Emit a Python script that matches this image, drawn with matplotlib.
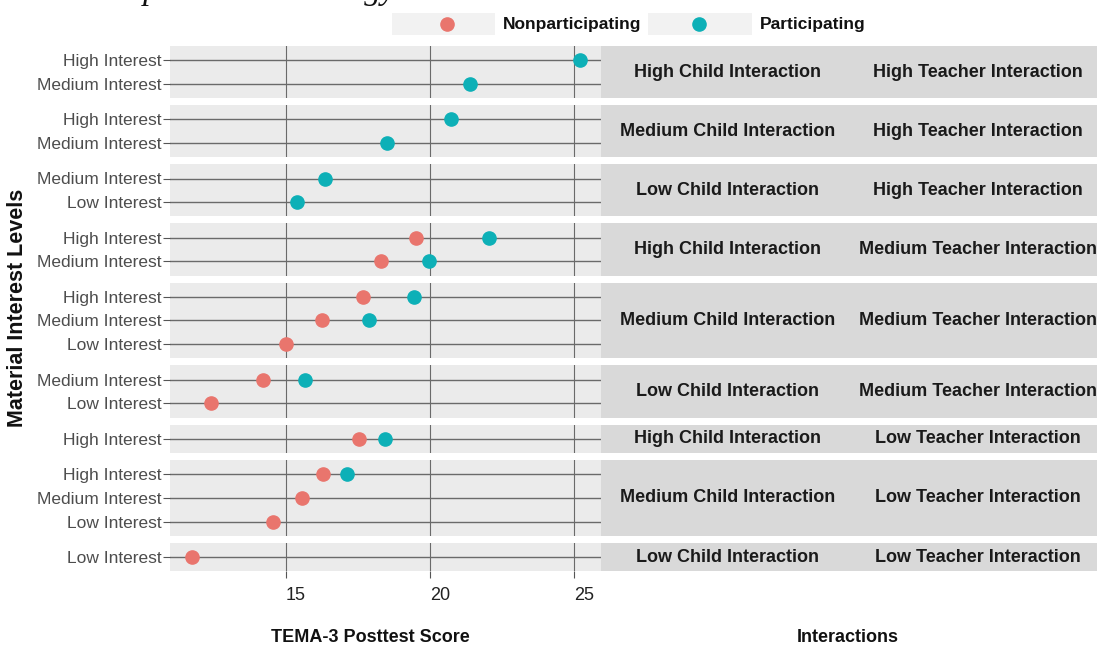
import numpy as np
import matplotlib
matplotlib.use("Agg")
import matplotlib.pyplot as plt
from matplotlib.patches import Rectangle
from matplotlib.lines import Line2D
from matplotlib.transforms import ScaledTranslation

# ---- data ----------------------------------------------------------------- #
child_levels = ["High", "Medium", "Low", "High", "Medium", "Low", "High", "Medium", "Low"]
teacher_levels = ["High", "High", "High", "Medium", "Medium", "Medium", "Low", "Low", "Low"]
interest_levels = [
    ["High Interest", "Medium Interest"],
    ["High Interest", "Medium Interest"],
    ["Medium Interest", "Low Interest"],
    ["High Interest", "Medium Interest"],
    ["High Interest", "Medium Interest", "Low Interest"],
    ["Medium Interest", "Low Interest"],
    ["High Interest"],
    ["High Interest", "Medium Interest", "Low Interest"],
    ["Low Interest"],
]
nan = np.nan
nonparticipating = [
    [nan, nan],
    [nan, nan],
    [nan, nan],
    [19.53, 18.30],
    [17.70, 16.27, 15.00],
    [14.20, 12.42],
    [17.53],
    [16.30, 15.56, 14.55],
    [11.77],
]
participating = [
    [25.22, 21.38],
    [20.73, 18.50],
    [16.38, 15.40],
    [22.06, 19.98],
    [19.44, 17.90, nan],
    [15.68, nan],
    [18.44],
    [17.12, nan, nan],
    [nan],
]
x_ticks = [15, 20, 25]
series_names = ["Nonparticipating", "Participating"]

# ---- style ---------------------------------------------------------------- #
W, H = 1097, 647
SANS = ["Liberation Sans", "DejaVu Sans"]
C_NON = "#E9756D"
C_PAR = "#0DB0B7"
PANEL_BG = "#EBEBEB"
STRIP_BG = "#D9D9D9"
GRID = "#6A6A6A"

plt.rcParams["font.family"] = SANS

fig = plt.figure(figsize=(W / 100, H / 100), dpi=100)


def fx(px):
    return px / W


def fy(px):
    return 1 - px / H


# panel layout in pixels
left_px, right_px = 170, 601
top_px = 46
unit = 23.7      # px per discrete row
gap = 7.0        # px between panels
xlim = (10.99, 25.94)

y = top_px
for k, levels in enumerate(interest_levels):
    n = len(levels)
    h = (n + 0.2) * unit
    ax = fig.add_axes([fx(left_px), fy(y + h), fx(right_px - left_px), h / H])
    ax.set_facecolor(PANEL_BG)
    for s in ax.spines.values():
        s.set_visible(False)
    pos = np.arange(n)
    ax.set_xlim(*xlim)
    ax.set_ylim(n - 0.4, -0.6)
    for xv in x_ticks:
        ax.axvline(xv, color=GRID, lw=0.8, zorder=1)
    for p in pos:
        ax.axhline(p, color=GRID, lw=1.0, zorder=1)
    ax.plot(nonparticipating[k], pos, "o", ms=9.5, color=C_NON, zorder=3, ls="none")
    ax.plot(participating[k], pos, "o", ms=9.5, color=C_PAR, zorder=3, ls="none")
    ax.set_yticks(pos)
    ax.set_yticklabels(levels, fontsize=12.5, color="#4D4D4D")
    ax.tick_params(axis="y", length=5, width=0.8, color="#555555", pad=1)
    ax.set_xticks(x_ticks)
    if k == len(interest_levels) - 1:
        ax.set_xticklabels([str(t) for t in x_ticks], fontsize=13, color="#222222")
        ax.tick_params(axis="x", length=5, width=0.8, color="#555555", pad=6)
        off = ScaledTranslation(10 / 100, 0, fig.dpi_scale_trans)
        for lab in ax.get_xticklabels():
            lab.set_transform(lab.get_transform() + off)
    else:
        ax.tick_params(axis="x", length=0, labelbottom=False)

    # strips on the right
    fig.patches.append(Rectangle((fx(right_px), fy(y + h)), fx(W - right_px), h / H,
                                 transform=fig.transFigure, facecolor=STRIP_BG,
                                 edgecolor="none"))
    yc = fy(y + h / 2)
    fig.text(fx(728), yc, f"{child_levels[k]} Child Interaction", ha="center",
             va="center", fontsize=13, fontweight="bold", color="#1A1A1A")
    fig.text(fx(978), yc, f"{teacher_levels[k]} Teacher Interaction", ha="center",
             va="center", fontsize=13, fontweight="bold", color="#1A1A1A")
    y += h + gap

# ---- legend (top) --------------------------------------------------------- #
for x0, x1, xd, xt, col, name in [(392, 495, 447, 503, C_NON, series_names[0]),
                                  (648, 752, 699, 760, C_PAR, series_names[1])]:
    fig.patches.append(Rectangle((fx(x0), fy(35)), fx(x1 - x0), 22 / H,
                                 transform=fig.transFigure, facecolor="#F2F2F2",
                                 edgecolor="none"))
    fig.lines.append(Line2D([fx(xd)], [fy(24)], marker="o", ms=9.5, color=col,
                            transform=fig.transFigure))
    fig.text(fx(xt), fy(24), name, ha="left", va="center", fontsize=12.5,
             fontweight="bold", color="#111111")

# ---- axis titles ---------------------------------------------------------- #
fig.text(fx(370), fy(638), "TEMA-3 Posttest Score", ha="center", va="center",
         fontsize=13, fontweight="bold", color="#111111")
fig.text(fx(848), fy(637), "Interactions", ha="center", va="center",
         fontsize=13, fontweight="bold", color="#111111")
fig.text(fx(18), fy(308), "Material Interest Levels", ha="center", va="center",
         rotation=90, fontsize=15.5, fontweight="bold", color="#111111")

# caption line cut off by the top edge in the reference (only descenders show)
fig.text(fx(80), fy(-1), "Comparison in strategy", ha="left", va="baseline",
         fontsize=24, style="italic", family=["Liberation Serif", "DejaVu Serif"],
         color="#111111")

fig.savefig("out.png", dpi=100)
